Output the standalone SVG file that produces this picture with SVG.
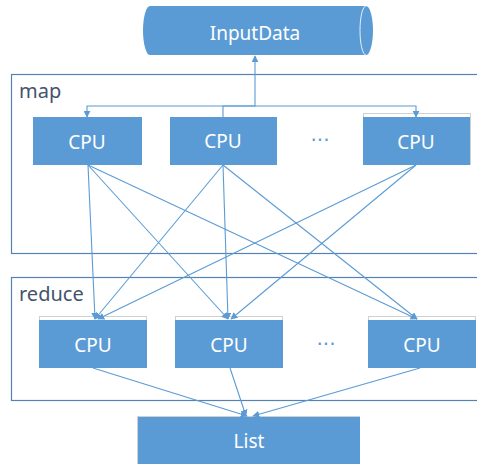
<svg xmlns="http://www.w3.org/2000/svg" width="477" height="464" viewBox="0 0 477 464">
<style>
.frame{fill:none;stroke:#5582B4;stroke-width:1.2}
.box{fill:#5B9BD5}
.edge{fill:#FFFFFF;stroke:#D0D0D0;stroke-width:1}
.t{font-family:"Noto Sans","Open Sans",sans-serif;font-size:19px;fill:#FFFFFF;text-anchor:middle}
.lbl{font-family:"Noto Sans","Open Sans",sans-serif;font-size:20px;fill:#44546A}
.dots{font-family:"DejaVu Sans",sans-serif;font-size:20px;fill:#5B9BD5;text-anchor:middle}
.c{fill:none;stroke:#5B9BD5;stroke-width:1.1}
</style>
<defs>
<marker id="ah" viewBox="0 0 10 10" refX="9" refY="5" markerWidth="7" markerHeight="7" markerUnits="userSpaceOnUse" orient="auto">
<path d="M0,0 L10,5 L0,10 Z" fill="#5B9BD5"/>
</marker>
</defs>
<rect width="477" height="464" fill="#FFFFFF"/>
<rect class="frame" x="11.5" y="74.5" width="470" height="179"/>
<rect class="frame" x="11.5" y="277.5" width="470" height="123"/>
<text class="lbl" x="19" y="98">map</text>
<text class="lbl" x="19" y="301">reduce</text>

<g id="inputdata">
<path class="box" d="M150,6 H366 A7,24.5 0 0 1 366,55 H150 A7,24.5 0 0 1 150,6 Z"/>
<path d="M366,6 A6,24.5 0 0 0 366,55" fill="none" stroke="#E8EEF6" stroke-width="1"/>
<text class="t" x="255" y="40">InputData</text>
</g>

<g id="map-cpu1">
<rect class="box" x="33" y="117" width="109" height="48"/>
<text class="t" x="87" y="149">CPU</text>
</g>
<g id="map-cpu2">
<rect class="box" x="170" y="117" width="107" height="48"/>
<text class="t" x="223" y="148">CPU</text>
</g>
<text class="dots" x="320" y="147">···</text>
<g id="map-cpu3">
<rect class="edge" x="363.5" y="113.5" width="107" height="51"/>
<rect class="box" x="363" y="117" width="107" height="48"/>
<text class="t" x="416" y="149">CPU</text>
</g>

<g id="red-cpu1">
<rect class="edge" x="39.5" y="316.5" width="107" height="51"/>
<rect class="box" x="39" y="320" width="108" height="48"/>
<text class="t" x="93" y="352">CPU</text>
</g>
<g id="red-cpu2">
<rect class="edge" x="175.5" y="316.5" width="107" height="51"/>
<rect class="box" x="175" y="320" width="108" height="48"/>
<text class="t" x="229" y="352">CPU</text>
</g>
<text class="dots" x="326" y="351">···</text>
<g id="red-cpu3">
<rect class="edge" x="368.5" y="316.5" width="107" height="51"/>
<rect class="box" x="368" y="320" width="108" height="48"/>
<text class="t" x="422" y="352">CPU</text>
</g>

<g id="list">
<rect class="edge" x="137.5" y="416.5" width="222" height="50"/>
<rect class="box" x="138" y="417" width="222" height="50"/>
<text class="t" x="249" y="448">List</text>
</g>

<g id="connectors">
<path class="c" d="M223,117 V106 H255 V56" marker-end="url(#ah)"/>
<path class="c" d="M255,106 H87 V117" marker-end="url(#ah)"/>
<path class="c" d="M255,106 H416 V117" marker-end="url(#ah)"/>
<line class="c" x1="88" y1="165" x2="95" y2="319" marker-end="url(#ah)"/>
<line class="c" x1="88" y1="165" x2="228" y2="319" marker-end="url(#ah)"/>
<line class="c" x1="88" y1="165" x2="417" y2="319" marker-end="url(#ah)"/>
<line class="c" x1="223" y1="165" x2="95" y2="319" marker-end="url(#ah)"/>
<line class="c" x1="223" y1="165" x2="228" y2="319" marker-end="url(#ah)"/>
<line class="c" x1="223" y1="165" x2="417" y2="319" marker-end="url(#ah)"/>
<line class="c" x1="416" y1="165" x2="98" y2="319" marker-end="url(#ah)"/>
<line class="c" x1="416" y1="165" x2="231" y2="319" marker-end="url(#ah)"/>
<line class="c" x1="93" y1="368" x2="247" y2="416" marker-end="url(#ah)"/>
<line class="c" x1="230" y1="368" x2="246" y2="416" marker-end="url(#ah)"/>
<line class="c" x1="420" y1="368" x2="253" y2="416" marker-end="url(#ah)"/>
</g>
</svg>
